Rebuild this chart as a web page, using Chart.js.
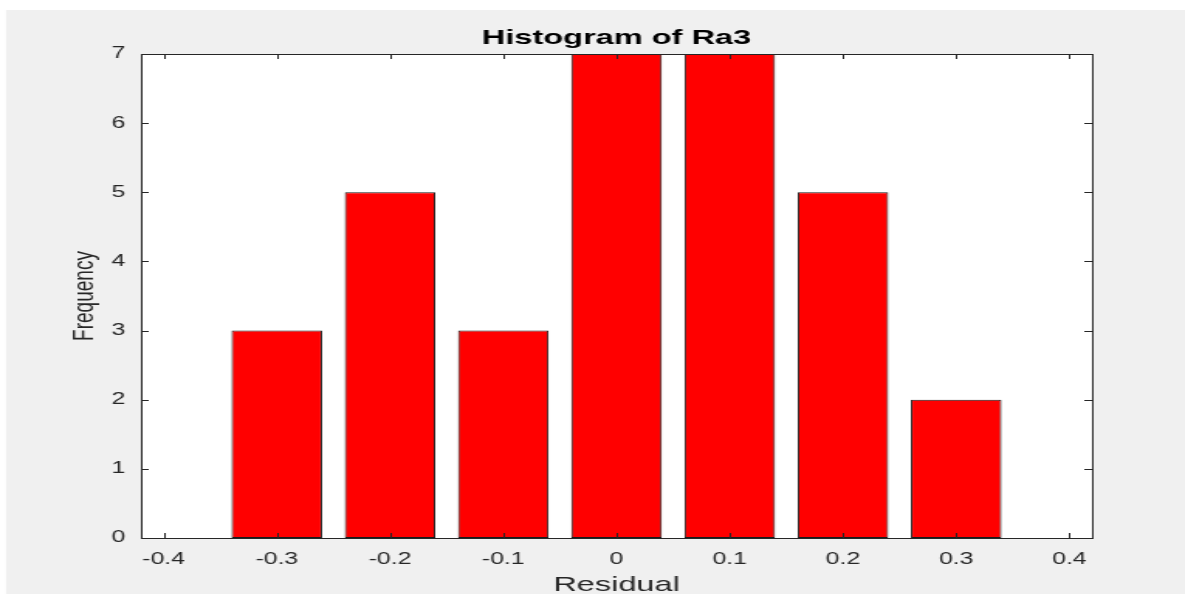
<!DOCTYPE html>
<html>
<head>
<meta charset="utf-8">
<title>Histogram of Ra3</title>
<script src="https://cdn.jsdelivr.net/npm/chart.js@4.4.1/dist/chart.umd.min.js"></script>
<style>
  html, body { margin: 0; padding: 0; background: #fff; overflow: hidden; }
  /* the reference figure is stretched horizontally; draw narrow, then stretch */
  #wrap {
    position: absolute; left: 0; top: 0;
    width: 765px; height: 594px;
    transform: scaleX(1.549); transform-origin: 0 0;
  }
</style>
</head>
<body>
<div id="wrap"><canvas id="hist"></canvas></div>
<script>
// Histogram bins (centers) and counts
const binCenters = [-0.3, -0.2, -0.1, 0, 0.1, 0.2, 0.3];
const frequencies = [3, 5, 3, 7, 7, 5, 2];

const xTicks = [-0.4, -0.3, -0.2, -0.1, 0, 0.1, 0.2, 0.3, 0.4];
const xTickLabels = ['-0.4', '-0.3', '-0.2', '-0.1', '0', '0.1', '0.2', '0.3', '0.4'];
const yTicks = [0, 1, 2, 3, 4, 5, 6, 7];

const chartTitle = 'Histogram of Ra3';

const STRETCH = 1.549;
const AXIS = '#262626';
const FONT = '"Liberation Sans", Arial, Helvetica, sans-serif';

// grey figure background, with the thin white strip at top/left of the screenshot
const figureBg = {
  id: 'figureBg',
  beforeDraw(chart) {
    const { ctx, width, height } = chart;
    ctx.save();
    ctx.fillStyle = '#f0f0f0';
    ctx.fillRect(6 / STRETCH, 10, width, height);
    ctx.fillStyle = '#fff';
    const a = chart.chartArea;
    ctx.fillRect(a.left, a.top, a.right - a.left, a.bottom - a.top);
    ctx.restore();
  },
};

// MATLAB-style box with inward tick marks on all four sides, title centred on the axes
const axesBox = {
  id: 'axesBox',
  afterDatasetsDraw(chart) {
    const { ctx, chartArea: a, scales } = chart;
    const len = 5;
    ctx.save();
    ctx.strokeStyle = AXIS;
    ctx.lineWidth = 1;
    ctx.beginPath();
    for (const v of xTicks) {
      const px = Math.round(scales.x.getPixelForValue(v)) + 0.5;
      ctx.moveTo(px, a.bottom); ctx.lineTo(px, a.bottom - len);
      ctx.moveTo(px, a.top); ctx.lineTo(px, a.top + len);
    }
    for (const v of yTicks) {
      const py = Math.round(scales.y.getPixelForValue(v)) + 0.5;
      ctx.moveTo(a.left, py); ctx.lineTo(a.left + len, py);
      ctx.moveTo(a.right, py); ctx.lineTo(a.right - len, py);
    }
    ctx.stroke();
    ctx.strokeRect(Math.round(a.left) + 0.5, Math.round(a.top) + 0.5,
      Math.round(a.right - a.left), Math.round(a.bottom - a.top));

    ctx.fillStyle = '#000';
    ctx.font = `bold 21px ${FONT}`;
    ctx.textAlign = 'center';
    ctx.textBaseline = 'middle';
    ctx.fillText(chartTitle, (a.left + a.right) / 2, 38);
    ctx.restore();
  },
};

new Chart(document.getElementById('hist'), {
  type: 'bar',
  data: {
    datasets: [{
      data: binCenters.map((x, i) => ({ x, y: frequencies[i] })),
      backgroundColor: '#ff0000',
      borderColor: '#1a1a1a',
      borderWidth: 1,
      borderSkipped: false,
      barPercentage: 0.8,
      categoryPercentage: 1.0,
    }],
  },
  options: {
    responsive: true,
    maintainAspectRatio: false,
    animation: false,
    layout: { padding: { left: 0, right: 60, top: 54, bottom: 0 } },
    plugins: {
      legend: { display: false },
      tooltip: { enabled: false },
      title: { display: false },
    },
    scales: {
      x: {
        type: 'linear',
        min: -0.42,
        max: 0.42,
        offset: false,
        grid: { display: false, drawTicks: false },
        border: { display: false },
        afterBuildTicks: (s) => { s.ticks = xTicks.map((value) => ({ value })); },
        afterFit: (s) => { s.height = 56; },
        ticks: {
          padding: 12,
          color: AXIS,
          font: { family: FONT, size: 16 },
          maxRotation: 0,
          autoSkip: false,
          callback: (v, i) => xTickLabels[i],
        },
        title: {
          display: true,
          text: 'Residual',
          color: AXIS,
          font: { family: FONT, size: 21, lineHeight: 1 },
          padding: { top: 0, bottom: -2 },
        },
      },
      y: {
        min: 0,
        max: 7,
        grid: { display: false, drawTicks: false },
        border: { display: false },
        afterBuildTicks: (s) => { s.ticks = yTicks.map((value) => ({ value })); },
        afterFit: (s) => { s.width = 91; },
        ticks: {
          padding: 10,
          color: AXIS,
          font: { family: FONT, size: 16 },
        },
        title: {
          display: true,
          text: 'Frequency',
          color: AXIS,
          font: { family: FONT, size: 19, lineHeight: 1 },
          padding: { top: 45, bottom: 0 },
        },
      },
    },
  },
  plugins: [figureBg, axesBox],
});
</script>
</body>
</html>
